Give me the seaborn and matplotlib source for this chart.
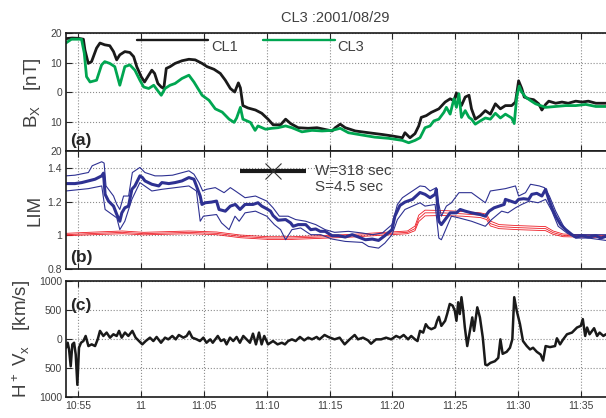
import matplotlib
matplotlib.use("Agg")
import matplotlib.pyplot as plt
import matplotlib.transforms as mtransforms
from matplotlib.lines import Line2D
import seaborn as sns

# time axis in minutes after 10:55 UT
tick_minutes = [0, 5, 10, 15, 20, 25, 30, 35, 40]
tick_labels = ["10:55", "11", "11:05", "11:10", "11:15", "11:20", "11:25", "11:30", "11:35"]

# (a) Bx [nT]
t_cl1 = [-1.0, -0.5, 0.0, 0.4, 0.52, 0.79, 1.05, 1.45, 1.72, 2.1, 2.5, 2.8, 3.05, 3.3, 3.7, 4.1, 4.4, 4.65,
         5.0, 5.27, 5.6, 5.85, 6.07, 6.33, 6.6, 6.8, 7.0, 7.3, 7.7, 8.25, 8.8, 9.3, 9.85, 10.25, 10.8, 11.3,
         11.7, 12.1, 12.45, 12.74, 12.9, 13.1, 13.5, 14.1, 14.6, 15.1, 15.5, 16.1, 16.5, 16.9, 17.5, 18.3,
         19.0, 19.65, 20.2, 20.45, 20.85, 21.25, 22.05, 23.1, 24.2, 25.0, 25.8, 26.0, 26.4, 26.8, 27.1, 27.3,
         27.7, 28.1, 28.7, 29.2, 29.6, 29.9, 30.1, 30.3, 30.5, 30.8, 31.1, 31.3, 31.6, 32.0, 32.4, 32.8,
         33.2, 33.6, 34.0, 34.5, 34.8, 34.9, 35.05, 35.3, 35.5, 35.85, 36.25, 36.65, 36.9, 37.2, 37.45,
         38.0, 38.5, 39.0, 39.6, 40.1, 40.6, 41.2, 42.0, 42.5]
bx_cl1 = [18.2, 18.4, 18.3, 18.0, 14.4, 9.8, 10.4, 15.0, 16.7, 16.1, 15.8, 13.8, 11.0, 12.7, 13.8, 13.5, 12.1, 8.7,
          5.3, 3.5, 5.8, 7.5, 6.4, 3.0, 1.8, 1.3, 8.1, 8.7, 9.8, 10.7, 11.2, 11.0, 9.8, 8.7, 7.8, 6.4,
          4.1, 1.3, 0.1, 3.2, 1.5, -4.5, -5.3, -6.0, -7.1, -9.1, -11.0, -11.0, -9.1, -10.6, -12.0, -12.2,
          -12.0, -12.6, -13.1, -12.0, -10.8, -12.0, -13.1, -13.7, -14.3, -14.8, -15.4, -13.7, -15.4, -14.0, -11.4, -8.5,
          -7.9, -6.8, -5.6, -3.3, -2.2, -2.8, -0.2, -2.8, -4.5, -1.6, -1.0, -5.6, -9.1, -7.9, -6.2, -7.4,
          -3.9, -5.6, -4.5, -4.5, -3.3, -0.5, 3.9, 1.3, -1.6, -2.2, -2.5, -3.9, -6.0, -4.1, -3.0,
          -3.7, -3.3, -3.7, -3.0, -3.3, -3.0, -3.7, -3.7, -3.7]
t_cl3 = [-1.0, -0.55, 0.25, 0.47, 0.65, 0.93, 1.45, 1.85, 2.1, 2.5, 2.9, 3.3, 3.7, 4.1, 4.5, 4.9, 5.2, 5.6,
         6.0, 6.4, 6.6, 6.9, 7.3, 7.7, 8.25, 8.8, 9.2, 9.85, 10.4, 10.9, 11.45, 12.0, 12.4, 12.6, 12.9, 13.1,
         13.7, 14.07, 14.3, 14.9, 15.4, 15.9, 16.5, 17.0, 17.8, 18.6, 19.4, 20.2, 20.85, 21.5, 22.6, 23.6,
         24.7, 25.8, 26.3, 26.8, 27.2, 27.6, 28.0, 28.3, 28.7, 29.1, 29.3, 29.6, 29.9, 30.1, 30.3, 30.5,
         30.8, 31.1, 31.3, 31.6, 32.0, 32.4, 32.8, 33.2, 33.6, 34.0, 34.5, 34.7, 34.9, 35.1, 35.3, 35.6,
         36.0, 36.4, 36.8, 37.2, 38.0, 38.8, 39.6, 40.4, 41.2, 42.0, 42.5]
bx_cl3 = [16.7, 18.0, 18.0, 13.3, 5.3, 3.5, 4.1, 9.3, 10.4, 9.8, 8.7, 2.4, 8.7, 9.3, 7.5, 4.1, 1.8, 1.3,
          2.4, 0.1, -1.0, 1.3, 2.4, 3.0, 4.7, 5.8, 3.5, -1.0, -2.7, -5.6, -6.7, -9.1, -10.2, -8.7, -5.1, -9.1,
          -10.2, -12.9, -11.4, -12.5, -12.2, -12.0, -11.4, -12.0, -13.4, -12.9, -13.1, -12.9, -12.2, -13.7, -14.5, -15.2,
          -15.6, -16.3, -17.1, -16.3, -15.4, -12.0, -11.4, -9.7, -9.1, -6.8, -5.1, -7.4, -2.2, -5.1, -0.5, -8.5,
          -6.2, -8.5, -9.1, -10.8, -9.7, -8.7, -9.1, -7.1, -8.7, -7.4, -8.7, -10.6, -1.6, 2.1, 0.1, -1.6,
          -2.8, -3.9, -4.5, -5.1, -4.8, -4.5, -4.5, -4.1, -4.8, -4.8, -4.8]

# (b) LIM
t_lim = [-1.0, -0.27, 0.27, 0.8, 1.33, 1.86, 2.0, 2.13, 2.4, 2.8, 3.06, 3.3, 3.46, 3.7, 3.99, 4.26, 4.5, 4.9,
         5.1, 5.3, 5.85, 6.4, 6.65, 7.2, 7.7, 8.25, 8.8, 9.2, 9.4, 9.7, 9.84, 10.1, 10.6, 11.0, 11.2, 11.7,
         12.1, 12.5, 12.87, 13.27, 13.9, 14.3, 14.6, 15.0, 15.3, 15.5, 15.9, 16.5, 16.9, 17.1, 17.5, 18.1,
         18.5, 18.9, 19.25, 19.65, 20.2, 20.7, 21.25, 21.8, 22.3, 22.85, 23.4, 23.9, 24.4, 24.97, 25.2, 25.6,
         26.0, 26.6, 27.2, 27.6, 28.0, 28.4, 28.5, 28.7, 28.9, 29.3, 29.6, 30.1, 30.4, 30.8, 31.3, 32.0,
         32.4, 32.7, 33.1, 33.5, 33.9, 34.0, 34.4, 34.8, 35.05, 35.45, 35.85, 36.1, 36.5, 36.9, 37.2, 37.45,
         37.7, 38.0, 38.4, 38.8, 39.3, 39.6, 40.1, 40.6, 41.2, 41.6, 42.0, 42.5]
lim_mid = [1.308, 1.308, 1.314, 1.324, 1.334, 1.354, 1.370, 1.244, 1.204, 1.174, 1.124, 1.084, 1.134, 1.164, 1.174, 1.274, 1.294, 1.354,
           1.344, 1.324, 1.304, 1.294, 1.314, 1.308, 1.314, 1.324, 1.344, 1.334, 1.294, 1.234, 1.184, 1.194, 1.198, 1.204, 1.154, 1.144,
           1.174, 1.184, 1.154, 1.184, 1.184, 1.194, 1.174, 1.158, 1.144, 1.118, 1.090, 1.094, 1.074, 1.054, 1.064, 1.064,
           1.034, 1.038, 1.024, 1.024, 0.998, 0.998, 0.990, 1.004, 0.990, 0.974, 0.978, 0.970, 0.998, 1.034, 1.114, 1.178,
           1.198, 1.214, 1.255, 1.244, 1.224, 1.244, 1.274, 1.084, 1.064, 1.104, 1.134, 1.134, 1.154, 1.144, 1.134, 1.124,
           1.114, 1.144, 1.164, 1.174, 1.184, 1.214, 1.204, 1.194, 1.214, 1.218, 1.214, 1.244, 1.250, 1.234, 1.274, 1.214,
           1.164, 1.114, 1.064, 1.034, 1.004, 0.990, 0.998, 0.990, 0.998, 0.984, 0.994, 0.994]
t_lim_hi = [-1.0, -0.27, 0.8, 1.1, 1.86, 2.05, 2.2, 2.8, 3.06, 3.3, 3.6, 4.0, 4.3, 4.9, 5.3, 6.1, 6.65, 7.5,
            8.8, 9.2, 9.6, 9.9, 10.2, 10.9, 11.6, 12.1, 12.5, 13.27, 14.1, 15.0, 15.5, 16.0, 16.7, 17.3, 18.1,
            18.9, 19.65, 20.4, 21.5, 22.6, 23.4, 24.2, 24.97, 25.4, 25.8, 26.6, 27.2, 27.6, 28.0, 28.5, 28.7,
            28.9, 29.3, 29.7, 30.3, 31.3, 32.4, 32.8, 34.0, 34.8, 35.05, 35.6, 36.0, 36.7, 37.1, 37.5, 38.0,
            38.7, 39.3, 40.1, 42.5]
lim_hi = [1.354, 1.358, 1.374, 1.414, 1.438, 1.430, 1.294, 1.234, 1.184, 1.154, 1.234, 1.234, 1.374, 1.404, 1.374, 1.354, 1.354, 1.358,
          1.384, 1.364, 1.314, 1.264, 1.274, 1.284, 1.254, 1.284, 1.264, 1.224, 1.234, 1.204, 1.164, 1.114, 1.114, 1.094, 1.084,
          1.064, 1.034, 1.018, 1.024, 1.014, 1.004, 1.014, 1.064, 1.184, 1.224, 1.264, 1.294, 1.290, 1.264, 1.284, 1.184,
          1.114, 1.174, 1.194, 1.254, 1.254, 1.194, 1.264, 1.278, 1.294, 1.234, 1.254, 1.304, 1.294, 1.284, 1.234, 1.144,
          1.044, 1.004, 1.004, 1.004]
t_lim_lo = [-1.0, 0.8, 1.86, 2.13, 3.06, 3.3, 3.7, 4.26, 4.9, 5.85, 6.65, 8.8, 9.4, 9.7, 9.95, 11.0, 11.4, 12.0,
            12.47, 12.8, 13.27, 14.1, 15.0, 15.6, 16.1, 16.5, 17.0, 17.7, 18.5, 19.3, 20.2, 21.25, 22.6, 23.1,
            23.9, 24.4, 24.97, 25.4, 26.0, 27.2, 27.6, 28.4, 28.7, 28.9, 29.3, 29.7, 30.3, 31.3, 32.4, 32.9,
            33.7, 34.2, 34.8, 35.3, 35.9, 36.6, 37.2, 37.7, 38.2, 38.9, 39.6, 40.6, 42.0, 42.5]
lim_lo = [1.264, 1.278, 1.294, 1.154, 1.104, 1.034, 1.084, 1.214, 1.314, 1.264, 1.274, 1.294, 1.264, 1.084, 1.114, 1.124, 1.074, 1.034,
          1.114, 1.084, 1.134, 1.144, 1.114, 1.064, 1.034, 0.974, 1.034, 1.044, 1.004, 1.004, 0.978, 0.964, 0.958, 0.934,
          0.924, 0.954, 1.004, 1.094, 1.154, 1.194, 1.174, 1.184, 0.984, 0.974, 1.044, 1.114, 1.104, 1.084, 1.054, 1.094,
          1.144, 1.134, 1.164, 1.184, 1.204, 1.194, 1.214, 1.144, 1.054, 1.014, 0.984, 0.984, 0.970, 0.970]
t_red = [-1.0, 0.8, 3.5, 5.2, 8.8, 11.0, 12.9, 15.1, 17.0, 19.2, 21.8, 24.4, 26.2, 26.8, 27.1, 27.6, 29.0, 30.6,
         32.0, 32.5, 32.8, 33.5, 35.0, 37.2, 37.8, 38.6, 40.0, 42.5]
red_hi = [1.012, 1.018, 1.026, 1.018, 1.026, 1.020, 1.002, 0.992, 0.992, 0.998, 1.006, 1.018, 1.026, 1.055, 1.120, 1.150, 1.148, 1.142,
          1.134, 1.126, 1.085, 1.064, 1.058, 1.052, 1.026, 1.008, 1.004, 0.998]
red_mid = [1.004, 1.010, 1.018, 1.010, 1.018, 1.012, 0.994, 0.984, 0.984, 0.990, 0.998, 1.010, 1.018, 1.040, 1.100, 1.134, 1.134, 1.128,
           1.120, 1.110, 1.070, 1.052, 1.046, 1.040, 1.016, 1.000, 0.998, 0.992]
red_lo = [0.998, 1.003, 1.010, 1.003, 1.010, 1.004, 0.986, 0.976, 0.976, 0.982, 0.990, 1.002, 1.010, 1.028, 1.082, 1.116, 1.118, 1.114,
          1.106, 1.094, 1.056, 1.040, 1.034, 1.028, 1.006, 0.992, 0.990, 0.986]
window_center = 15.5      # minutes, position of the window marker
window_sec = 318
step_sec = 4.5
window_level = 1.385

# (c) H+ Vx [km/s]
t_vx = [-0.98, -0.85, -0.74, -0.61, -0.48, -0.34, -0.21, -0.08, 0.05, 0.21, 0.4, 0.58, 0.8, 1.06, 1.33, 1.54, 1.72, 1.99,
        2.25, 2.52, 2.79, 3.05, 3.24, 3.45, 3.71, 3.98, 4.3, 4.56, 4.83, 5.09, 5.36, 5.7, 5.97, 6.23, 6.58, 6.9,
        7.16, 7.48, 7.75, 8.0, 8.36, 8.62, 8.83, 9.07, 9.42, 9.68, 9.95, 10.2, 10.5, 10.7, 11.1, 11.35, 11.6, 11.8,
        12.07, 12.33, 12.6, 12.86, 13.13, 13.4, 13.66, 13.9, 14.14, 14.38, 14.59, 14.8, 15.1, 15.5, 15.86, 16.2, 16.45, 16.7,
        17.0, 17.3, 17.64, 17.98, 18.3, 18.6, 18.97, 19.2, 19.6, 19.9, 20.4, 20.8, 21.2, 21.6, 22.0, 22.26,
        22.66, 23.06, 23.3, 23.7, 24.1, 24.5, 24.9, 25.3, 25.6, 25.9, 26.25, 26.5, 26.8, 27.0, 27.2, 27.45,
        27.66, 27.85, 28.1, 28.4, 28.56, 28.7, 28.9, 29.2, 29.36, 29.57, 29.8, 29.97, 30.1, 30.24, 30.37, 30.5,
        30.64, 30.77, 30.96, 31.17, 31.36, 31.5, 31.76, 31.97, 32.2, 32.4, 32.55, 32.8, 33.16, 33.43, 33.6, 33.78,
        34.1, 34.36, 34.55, 34.7, 34.9, 35.16, 35.4, 35.7, 35.96, 36.2, 36.5, 36.8, 37.0, 37.2, 37.55, 37.95,
        38.1, 38.35, 38.6, 38.9, 39.3, 39.7, 40.0, 40.16, 40.35, 40.5, 40.7, 41.06, 41.3, 41.5, 41.8, 42.0, 42.5]
vx = [-150, -64, -180, -468, -92, -64, -266, -786, -150, -64, -35, 52, -121, -92, -121, -6, 139, 52,
      110, 23, 81, 52, 139, 23, 110, 52, 139, 23, -35, -92, -35, 23, -35, 35, -64, 23,
      -6, 52, -6, 69, 23, 52, 127, 23, -6, -35, 23, -64, -6, -64, 52, -35, -6, -92,
      23, -35, 35, -64, 52, -6, -64, 92, -92, 110, -92, 52, -92, -35, -92, -64, -92, -35,
      -6, -35, 35, -23, 23, -6, 35, -6, 69, 35, -6, 23, -92, -6, 69, -6,
      23, -23, -81, -6, -6, 23, -6, 52, 23, 69, -6, 52, -6, -35, 139, 110,
      254, 197, 168, 197, 312, 381, 225, 312, 428, 601, 572, 485, 312, 630, 428, 717,
      485, 197, -121, 139, 370, 139, 543, 370, 23, -439, -451, -410, -381, -324, -6, -254,
      -220, -150, -6, 717, 485, 254, -35, -121, -179, -150, -220, -266, -370, -121, -139, -121,
      12, -92, -6, 81, 110, 197, 225, 341, 52, 197, 81, 185, 52, 110, 52, 81, 60]

sns.set_theme(style="ticks")
plt.rcParams["font.family"] = ["Liberation Sans", "DejaVu Sans"]
plt.rcParams["mathtext.default"] = "regular"

grey = "#404040"
fig = plt.figure(figsize=(6.06, 4.18), dpi=100)
left, width = 0.109, 0.901
ax_a = fig.add_axes([left, 0.638, width, 0.2823])
ax_b = fig.add_axes([left, 0.3565, width, 0.2815])
ax_c = fig.add_axes([left, 0.0495, width, 0.279])

# panel (a)
sns.lineplot(x=t_cl1, y=bx_cl1, ax=ax_a, color="#1a1a1a", linewidth=2.0, sort=False, estimator=None)
sns.lineplot(x=t_cl3, y=bx_cl3, ax=ax_a, color="#00a651", linewidth=2.0, sort=False, estimator=None)
ax_a.set_ylim(-20, 20)
ax_a.set_yticks([-20, -10, 0, 10, 20])
ax_a.set_yticklabels(["20", "10", "0", "10", "20"])
ax_a.set_ylabel("B$_X$   [nT]", fontsize=13.5, color=grey)
ax_a.yaxis.set_label_coords(-0.042, 0.5)

# spacecraft legend
fs = 10.5
trans = mtransforms.blended_transform_factory(ax_a.transData, ax_a.transAxes)
handles = [Line2D([], [], color="#1a1a1a", lw=1.7), Line2D([], [], color="#00a651", lw=1.7)]
ax_a.legend(handles, ["\nCL1", "\nCL3"], ncol=2, loc="center left", bbox_to_anchor=(4.65, 0.949),
            bbox_transform=trans, frameon=False, fontsize=fs, handlelength=4.9, handletextpad=0.18,
            columnspacing=1.75, borderpad=0, borderaxespad=0, labelcolor=grey)

# panel (b)
for r in (red_hi, red_mid, red_lo):
    sns.lineplot(x=t_red, y=r, ax=ax_b, color="#ee1c25", linewidth=0.6, sort=False, estimator=None)
sns.lineplot(x=t_lim_hi, y=lim_hi, ax=ax_b, color="#2e3192", linewidth=0.8, sort=False, estimator=None)
sns.lineplot(x=t_lim_lo, y=lim_lo, ax=ax_b, color="#2e3192", linewidth=0.8, sort=False, estimator=None)
sns.lineplot(x=t_lim, y=lim_mid, ax=ax_b, color="#2e3192", linewidth=2.2, sort=False, estimator=None)
w_min = window_sec / 60.0
ax_b.plot([window_center - w_min / 2, window_center + w_min / 2], [window_level, window_level],
          color="#1a1a1a", lw=3.0, solid_capstyle="butt")
ax_b.plot([window_center], [window_level], marker="x", ms=12, mew=0.8, color="#333333")
ax_b.text(window_center + w_min / 2 + 0.7, window_level - 0.05, f"W={window_sec} sec\nS={step_sec} sec",
          fontsize=11, color=grey, va="center", ha="left", linespacing=1.25)
ax_b.set_ylim(0.8, 1.5)
ax_b.set_yticks([0.8, 1.0, 1.2, 1.4])
ax_b.set_yticklabels(["0.8", "1", "1.2", "1.4"])
ax_b.set_ylabel("LIM", fontsize=13.5, color=grey)
ax_b.yaxis.set_label_coords(-0.042, 0.5)

# panel (c)
sns.lineplot(x=t_vx, y=vx, ax=ax_c, color="#1a1a1a", linewidth=1.8, sort=False, estimator=None)
ax_c.set_ylim(-1000, 1000)
ax_c.set_yticks([-1000, -500, 0, 500, 1000])
ax_c.set_yticklabels(["1000", "500", "0", "500", "1000"])
ax_c.set_ylabel("H$^+$ V$_x$   [km/s]", fontsize=13.5, color=grey)
ax_c.yaxis.set_label_coords(-0.060, 0.5)

for ax, tag, ypos, va in [(ax_a, "(a)", 0.03, "bottom"), (ax_b, "(b)", 0.03, "bottom"), (ax_c, "(c)", 0.72, "bottom")]:
    ax.set_xlim(-0.98, 42.49)
    ax.set_xticks(tick_minutes)
    ax.grid(True, linestyle=":", color="#8c8c8c", linewidth=0.8)
    ax.tick_params(direction="in", length=4, width=0.8, top=True, right=True, labelsize=7.5,
                   labelcolor=grey, pad=3)
    for s in ax.spines.values():
        s.set_linewidth(1.2)
        s.set_color("#1a1a1a")
    ax.set_xlabel("")
    ax.text(0.008, ypos, tag, transform=ax.transAxes, fontsize=12.5, fontweight="bold", va=va, ha="left")

ax_a.set_xticklabels([])
ax_b.set_xticklabels([])
ax_c.set_xticklabels(tick_labels)

fig.text(0.554, 1 - 18 / 418, "CL3 :2001/08/29", ha="center", va="center", fontsize=10.5, color=grey)

fig.savefig("out.png", dpi=100)
